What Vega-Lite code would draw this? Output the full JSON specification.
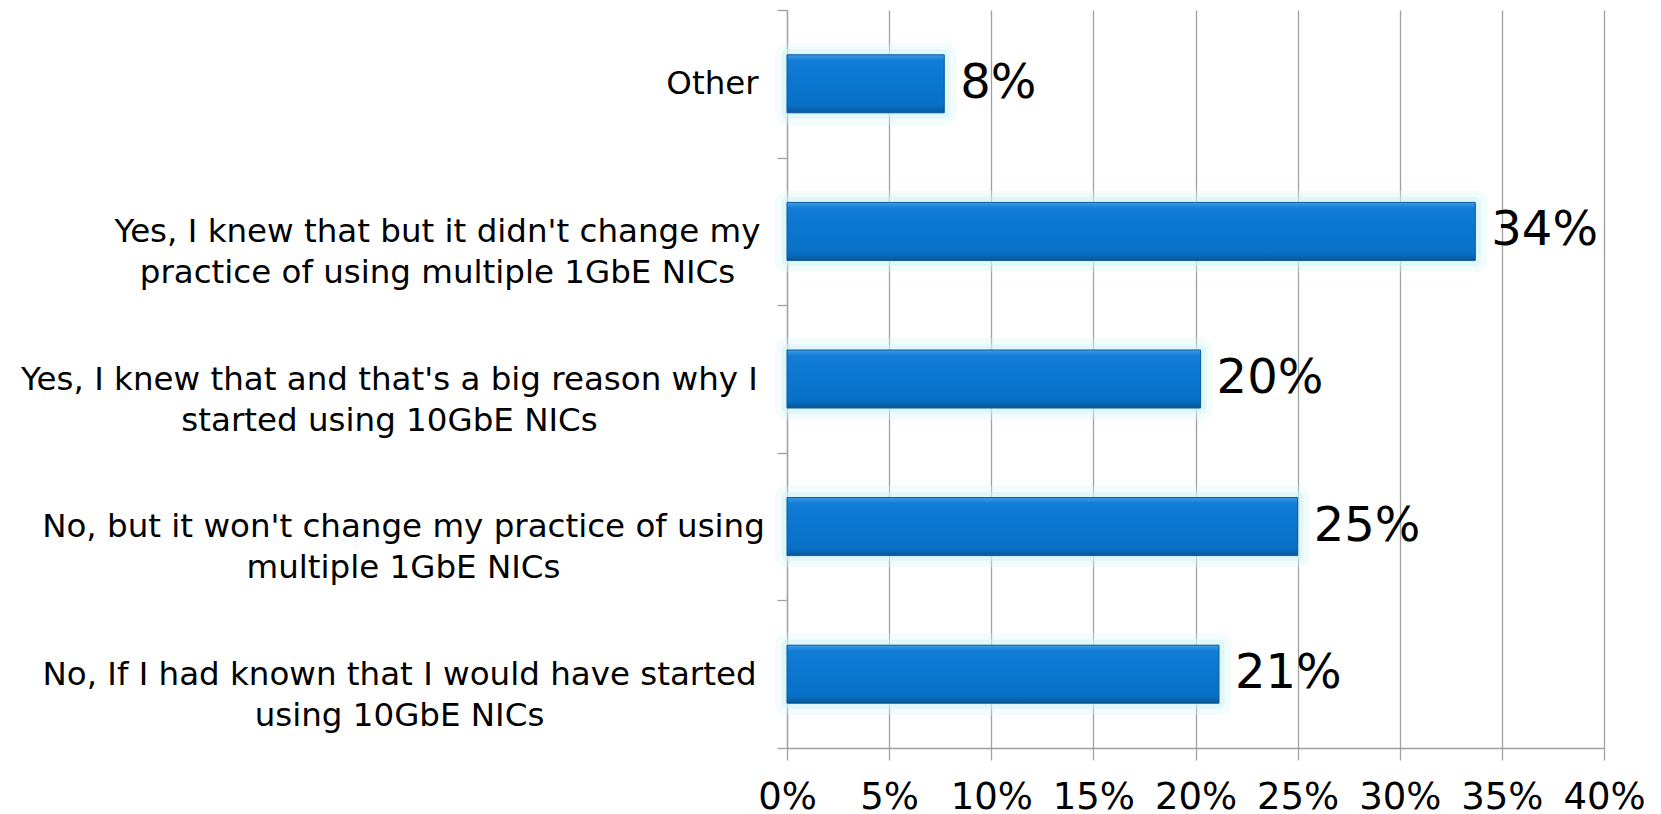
{
  "$schema": "https://vega.github.io/schema/vega-lite/v6.json",
  "width": 817,
  "height": 738,
  "autosize": {"type": "none"},
  "padding": {"left": 787, "top": 10, "right": 57, "bottom": 66},
  "background": "white",
  "config": {"view": {"stroke": null}, "font": "DejaVu Sans"},
  "data": {
    "values": [
      {"answer": "Other", "pct": 0.077},
      {"answer": "Yes, I knew that but it didn't change my\npractice of using multiple 1GbE NICs", "pct": 0.337},
      {"answer": "Yes, I knew that and that's a big reason why I\nstarted using 10GbE NICs", "pct": 0.2025},
      {"answer": "No, but it won't change my practice of using\nmultiple 1GbE NICs", "pct": 0.25},
      {"answer": "No, If I had known that I would have started\nusing 10GbE NICs", "pct": 0.2115}
    ]
  },
  "encoding": {
    "y": {
      "field": "answer",
      "type": "nominal",
      "sort": null,
      "scale": {"paddingInner": 0, "paddingOuter": 0},
      "axis": {
        "title": null,
        "tickBand": "extent",
        "grid": false,
        "domainColor": "#a0a0a0",
        "domainWidth": 1.3,
        "tickColor": "#a0a0a0",
        "tickWidth": 1.3,
        "tickSize": 10,
        "labelPadding": {
          "condition": [
            {"test": "datum.value == 'Other'", "value": 65},
            {"test": "test(/didn/, '' + datum.value)", "value": 340},
            {"test": "test(/big reason/, '' + datum.value)", "value": 388},
            {"test": "test(/won/, '' + datum.value)", "value": 374}
          ],
          "value": 378
        },
        "labelFont": "DejaVu Sans",
        "labelFontSize": 32.5,
        "labelColor": "#000000",
        "labelLimit": 0,
        "labelAlign": "center",
        "labelBaseline": "middle",
        "labelLineHeight": 41,
        "labelExpr": "split(datum.label, '\\n')"
      }
    },
    "x": {
      "field": "pct",
      "type": "quantitative",
      "scale": {"domain": [0, 0.4], "nice": false},
      "axis": {
        "title": null,
        "values": [0, 0.05, 0.1, 0.15, 0.2, 0.25, 0.3, 0.35, 0.4],
        "format": ".0%",
        "grid": true,
        "gridColor": "#a0a0a0",
        "gridWidth": 1.3,
        "domainColor": "#a0a0a0",
        "domainWidth": 1.3,
        "tickColor": "#a0a0a0",
        "tickWidth": 1.3,
        "tickSize": 12,
        "labelPadding": 19,
        "labelFont": "DejaVu Sans",
        "labelFontSize": 37,
        "labelColor": "#000000",
        "labelFlush": false,
        "labelOverlap": false
      }
    }
  },
  "layer": [
    {
      "mark": {"type": "bar", "height": {"band": 0.393}, "fill": "#dcf5fa", "fillOpacity": 0.45, "stroke": "#dcf5fa", "strokeWidth": 24, "strokeOpacity": 0.35, "strokeJoin": "round"}
    },
    {
      "mark": {"type": "bar", "height": {"band": 0.393}, "fill": "#cdf1f7", "stroke": "#cdf1f7", "strokeWidth": 11, "strokeOpacity": 0.5, "strokeJoin": "round"}
    },
    {
      "mark": {
        "type": "bar",
        "height": {"band": 0.393},
        "stroke": "#0a5a9c",
        "strokeWidth": 1,
        "color": {
          "gradient": "linear",
          "x1": 0, "y1": 0, "x2": 0, "y2": 1,
          "stops": [
            {"offset": 0, "color": "#3d9ce6"},
            {"offset": 0.1, "color": "#127dd6"},
            {"offset": 0.5, "color": "#0a76cf"},
            {"offset": 0.88, "color": "#0870c6"},
            {"offset": 1, "color": "#0a5696"}
          ]
        }
      }
    },
    {
      "mark": {"type": "text", "align": "left", "baseline": "middle", "dx": 16, "fontSize": 48, "font": "DejaVu Sans", "color": "#000000"},
      "encoding": {"text": {"field": "pct", "type": "quantitative", "format": ".0%"}}
    }
  ]
}
